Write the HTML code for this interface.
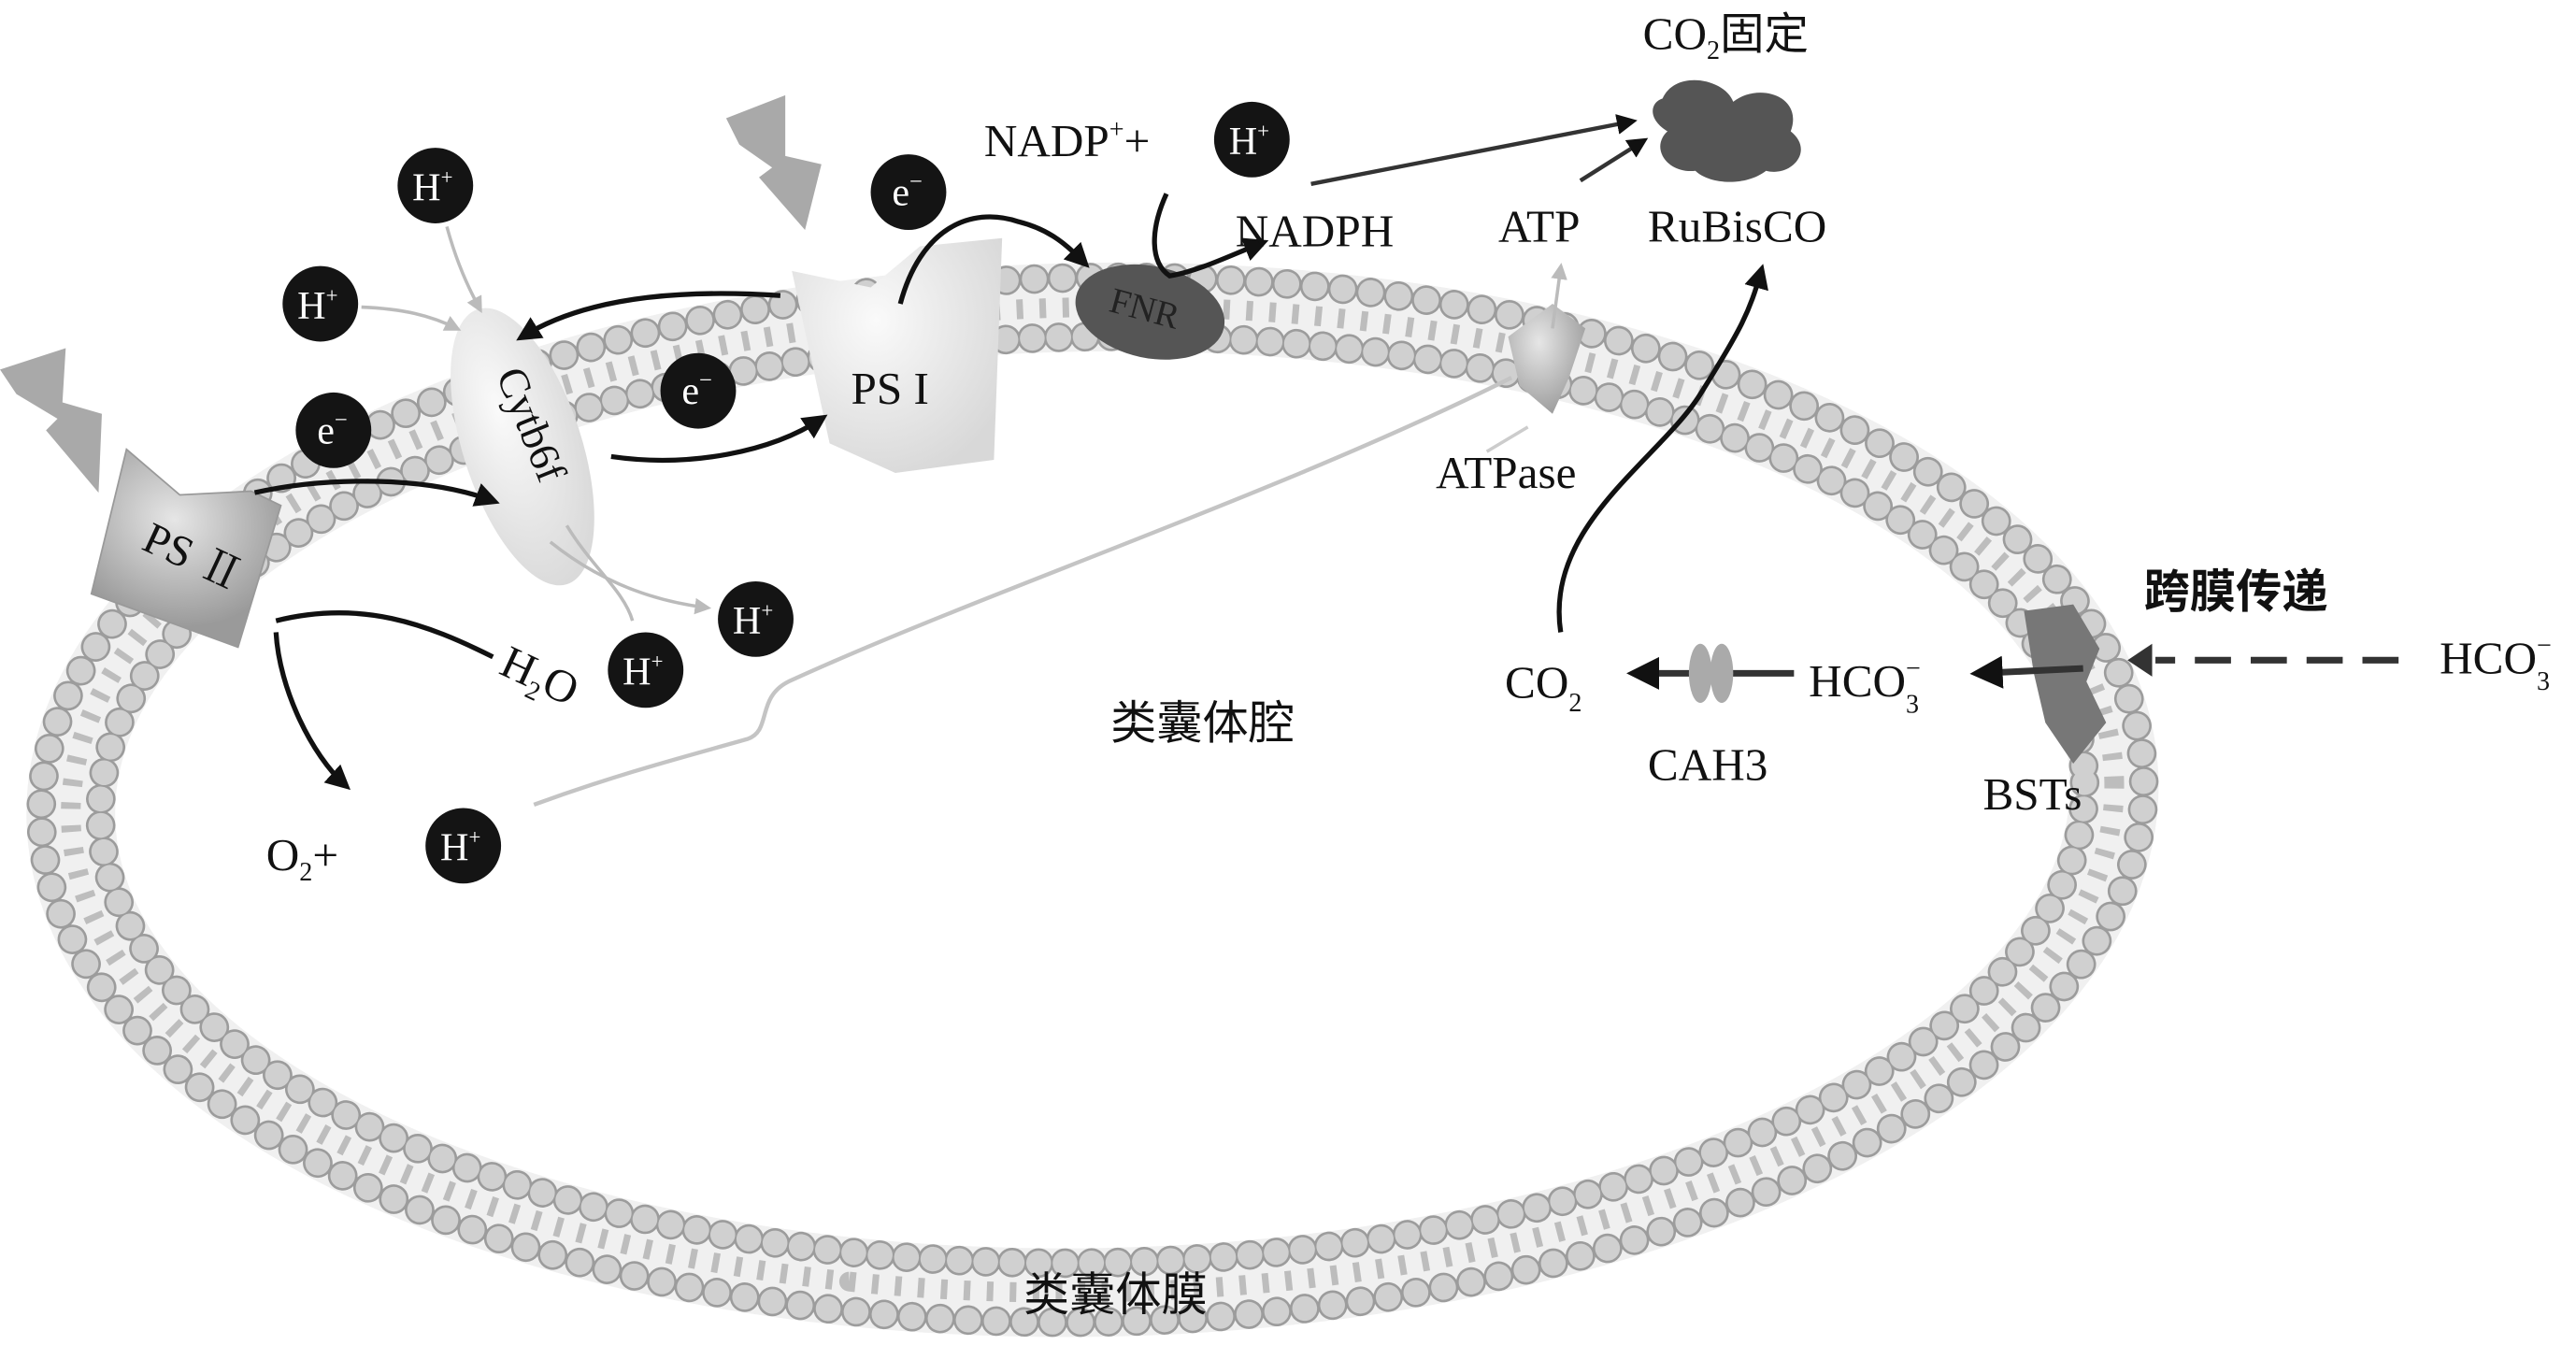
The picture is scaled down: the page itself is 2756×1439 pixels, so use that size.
<!DOCTYPE html>
<html><head><meta charset="utf-8"><style>
html,body{margin:0;padding:0;background:#fff;}
svg{display:block}
text{font-family:"Liberation Serif","Noto Serif CJK SC","Noto Sans CJK SC",serif;fill:#111}
.cjk{font-family:"Noto Sans CJK SC","WenQuanYi Zen Hei",sans-serif}
</style></head><body>
<svg width="2756" height="1439" viewBox="0 0 1568 819" preserveAspectRatio="none" xmlns="http://www.w3.org/2000/svg">
<defs>
<marker id="ah" markerWidth="5" markerHeight="5" refX="3.5" refY="2.5" orient="auto" markerUnits="strokeWidth"><path d="M0,0 L5,2.5 L0,5 Z" fill="#111"/></marker>
<marker id="ahg" markerWidth="5" markerHeight="5" refX="3.5" refY="2.5" orient="auto" markerUnits="strokeWidth"><path d="M0,0 L5,2.5 L0,5 Z" fill="#bbb"/></marker>
<radialGradient id="gs" cx="40%" cy="35%" r="70%"><stop offset="0" stop-color="#e6e6e6"/><stop offset="1" stop-color="#9a9a9a"/></radialGradient>
<radialGradient id="gl" cx="40%" cy="35%" r="70%"><stop offset="0" stop-color="#fafafa"/><stop offset="1" stop-color="#d8d8d8"/></radialGradient>
</defs>
<!-- membrane -->
<g transform="rotate(-1 665 487)" fill="none">
<ellipse cx="665" cy="487" rx="622" ry="300" stroke="#f0f0f0" stroke-width="54"/>
<ellipse cx="665" cy="487" rx="622" ry="300" stroke="#bdbdbd" stroke-width="12" stroke-dasharray="4 10"/>
<ellipse cx="665" cy="487" rx="640" ry="318" stroke="#9c9c9c" stroke-width="18" stroke-linecap="round" stroke-dasharray="0.1 17"/>
<ellipse cx="665" cy="487" rx="640" ry="318" stroke="#d0d0d0" stroke-width="15" stroke-linecap="round" stroke-dasharray="0.1 17"/>
<ellipse cx="665" cy="487" rx="604" ry="282" stroke="#9c9c9c" stroke-width="18" stroke-linecap="round" stroke-dasharray="0.1 16"/>
<ellipse cx="665" cy="487" rx="604" ry="282" stroke="#d0d0d0" stroke-width="15" stroke-linecap="round" stroke-dasharray="0.1 16"/>
</g>
<!-- gray proton path -->
<path d="M325,490 C380,470 420,460 455,450 C470,445 460,425 480,415 C600,360 780,300 920,230" stroke="#c4c4c4" stroke-width="2.5" fill="none"/>
<!-- lightning -->
<polygon points="0,225 40,212 38,245 62,252 60,300 28,262 35,255 10,240" fill="#a9a9a9"/>
<polygon points="442,72 478,58 478,95 500,100 490,140 462,108 470,102 450,88" fill="#a9a9a9"/>
<!-- PSII -->
<g transform="rotate(20 115 330)"><path d="M60,290 L100,305 L140,288 L160,290 L165,380 L70,380 Z" fill="url(#gs)" stroke="#999"/></g>
<text x="85" y="345" font-size="27" transform="rotate(25 110 340)">PS Ⅱ</text>
<!-- Cytb6f -->
<ellipse cx="318" cy="272" rx="36" ry="88" transform="rotate(-18 318 272)" fill="url(#gl)"/>
<text x="275" y="268" font-size="26" transform="rotate(68 318 268)">Cytb6f</text>
<!-- PSI -->
<path d="M482,165 L530,175 L560,150 L610,145 L605,280 L545,288 L505,270 Z" fill="url(#gl)"/>
<text x="518" y="246" font-size="28">PS I</text>
<!-- FNR -->
<ellipse cx="700" cy="190" rx="46" ry="28" transform="rotate(12 700 190)" fill="#555"/>
<text x="675" y="196" font-size="22" transform="rotate(15 700 190)" style="fill:#222">FNR</text>
<!-- ATPase -->
<path d="M918,205 L945,185 L965,200 L955,230 L945,252 L925,235 Z" fill="url(#gs)"/>
<line x1="945" y1="200" x2="950" y2="163" stroke="#bbb" stroke-width="2" marker-end="url(#ahg)"/>
<line x1="930" y1="260" x2="905" y2="275" stroke="#ccc" stroke-width="2"/>
<!-- BSTs -->
<path d="M1232,372 L1262,368 L1278,395 L1270,415 L1282,440 L1262,465 L1245,440 L1238,410 Z" fill="#777"/>
<!-- RuBisCO -->
<path d="M1012,60 C1020,42 1050,48 1055,62 C1070,50 1098,58 1090,80 C1105,92 1090,108 1075,104 C1062,114 1040,112 1032,104 C1015,106 1004,90 1015,80 C1002,72 1005,62 1012,60 Z" fill="#555"/>
<!-- black circles -->
<g fill="#141414">
<circle cx="265" cy="113" r="23"/><circle cx="195" cy="185" r="23"/><circle cx="203" cy="262" r="23"/>
<circle cx="425" cy="238" r="23"/><circle cx="553" cy="117" r="23"/><circle cx="762" cy="85" r="23"/>
<circle cx="460" cy="377" r="23"/><circle cx="393" cy="408" r="23"/><circle cx="282" cy="515" r="23"/>
</g>
<g font-size="24">
<text x="251" y="122" style="fill:#fff">H<tspan font-size="13" dy="-10">+</tspan></text>
<text x="181" y="194" style="fill:#fff">H<tspan font-size="13" dy="-10">+</tspan></text>
<text x="193" y="270" style="fill:#fff">e<tspan font-size="14" dy="-10">−</tspan></text>
<text x="415" y="246" style="fill:#fff">e<tspan font-size="14" dy="-10">−</tspan></text>
<text x="543" y="125" style="fill:#fff">e<tspan font-size="14" dy="-10">−</tspan></text>
<text x="748" y="94" style="fill:#fff">H<tspan font-size="13" dy="-10">+</tspan></text>
<text x="446" y="386" style="fill:#fff">H<tspan font-size="13" dy="-10">+</tspan></text>
<text x="379" y="417" style="fill:#fff">H<tspan font-size="13" dy="-10">+</tspan></text>
<text x="268" y="524" style="fill:#fff">H<tspan font-size="13" dy="-10">+</tspan></text>
</g>
<!-- gray arrows -->
<g stroke="#bbb" stroke-width="2" fill="none">
<path d="M272,138 C278,160 285,175 292,188" marker-end="url(#ahg)"/>
<path d="M220,187 C245,188 262,192 278,200" marker-end="url(#ahg)"/>
<path d="M345,320 C360,345 380,360 385,378"/>
<path d="M335,330 C360,350 390,365 430,370" marker-end="url(#ahg)"/>
</g>
<!-- black arrows -->
<g stroke="#111" stroke-width="3" fill="none">
<path d="M155,300 C200,290 260,290 300,305" marker-end="url(#ah)"/>
<path d="M168,378 C220,365 260,380 300,400"/>
<path d="M168,385 C170,420 190,460 210,478" marker-end="url(#ah)"/>
<path d="M475,180 C400,175 350,185 318,205" marker-end="url(#ah)"/>
<path d="M372,278 C420,285 470,275 500,255" marker-end="url(#ah)"/>
<path d="M548,185 C560,140 590,125 620,135 C640,140 650,150 660,160" marker-end="url(#ah)"/>
<path d="M710,118 C700,140 700,160 712,168 C730,165 750,155 768,148" marker-end="url(#ah)"/>
<path d="M950,385 C940,320 1010,280 1035,240 C1060,200 1065,190 1072,165" marker-end="url(#ah)"/>
</g>
<g stroke="#333" stroke-width="2.5" fill="none">
<line x1="798" y1="112" x2="993" y2="74" marker-end="url(#ah)"/>
<line x1="962" y1="110" x2="1000" y2="86" marker-end="url(#ah)"/>
</g>
<g stroke="#333" stroke-width="4" fill="none">
<line x1="1092" y1="410" x2="996" y2="410" marker-end="url(#ah)"/>
<line x1="1268" y1="407" x2="1205" y2="410" marker-end="url(#ah)"/>
<line x1="1460" y1="402" x2="1312" y2="402" stroke-dasharray="22 12"/>
</g>
<polygon points="1295,402 1310,392 1310,412" fill="#333"/>
<g fill="#aaa"><ellipse cx="1035" cy="410" rx="7" ry="18"/><ellipse cx="1048" cy="410" rx="7" ry="18"/></g>
<!-- labels -->
<g font-size="28">
<text x="599" y="95">NADP<tspan font-size="16" dy="-11">+</tspan><tspan dy="11">+</tspan></text>
<text x="752" y="150">NADPH</text>
<text x="912" y="147">ATP</text>
<text x="1003" y="147">RuBisCO</text>
<text x="1000" y="30">CO<tspan font-size="16" dy="6">2</tspan><tspan dy="-6" class="cjk" font-size="27">固定</tspan></text>
<text x="874" y="297">ATPase</text>
<text x="300" y="418" transform="rotate(25 320 420)">H<tspan font-size="16" dy="6">2</tspan><tspan dy="-6">O</tspan></text>
<text x="162" y="530">O<tspan font-size="16" dy="6">2</tspan><tspan dy="-6">+</tspan></text>
<text x="916" y="425">CO<tspan font-size="16" dy="8">2</tspan></text>
<text x="1101" y="424">HCO<tspan font-size="16" dy="10">3</tspan><tspan font-size="16" dx="-8" dy="-22">−</tspan></text>
<text x="1485" y="410">HCO<tspan font-size="16" dy="10">3</tspan><tspan font-size="16" dx="-8" dy="-22">−</tspan></text>
<text x="1003" y="475">CAH3</text>
<text x="1207" y="493">BSTs</text>
</g>
<g font-size="28">
<text x="1305" y="370" class="cjk" font-weight="bold">跨膜传递</text>
<text x="676" y="450" class="cjk">类囊体腔</text>
<text x="623" y="798" class="cjk">类囊体膜</text>
</g>
</svg>
</body></html>
